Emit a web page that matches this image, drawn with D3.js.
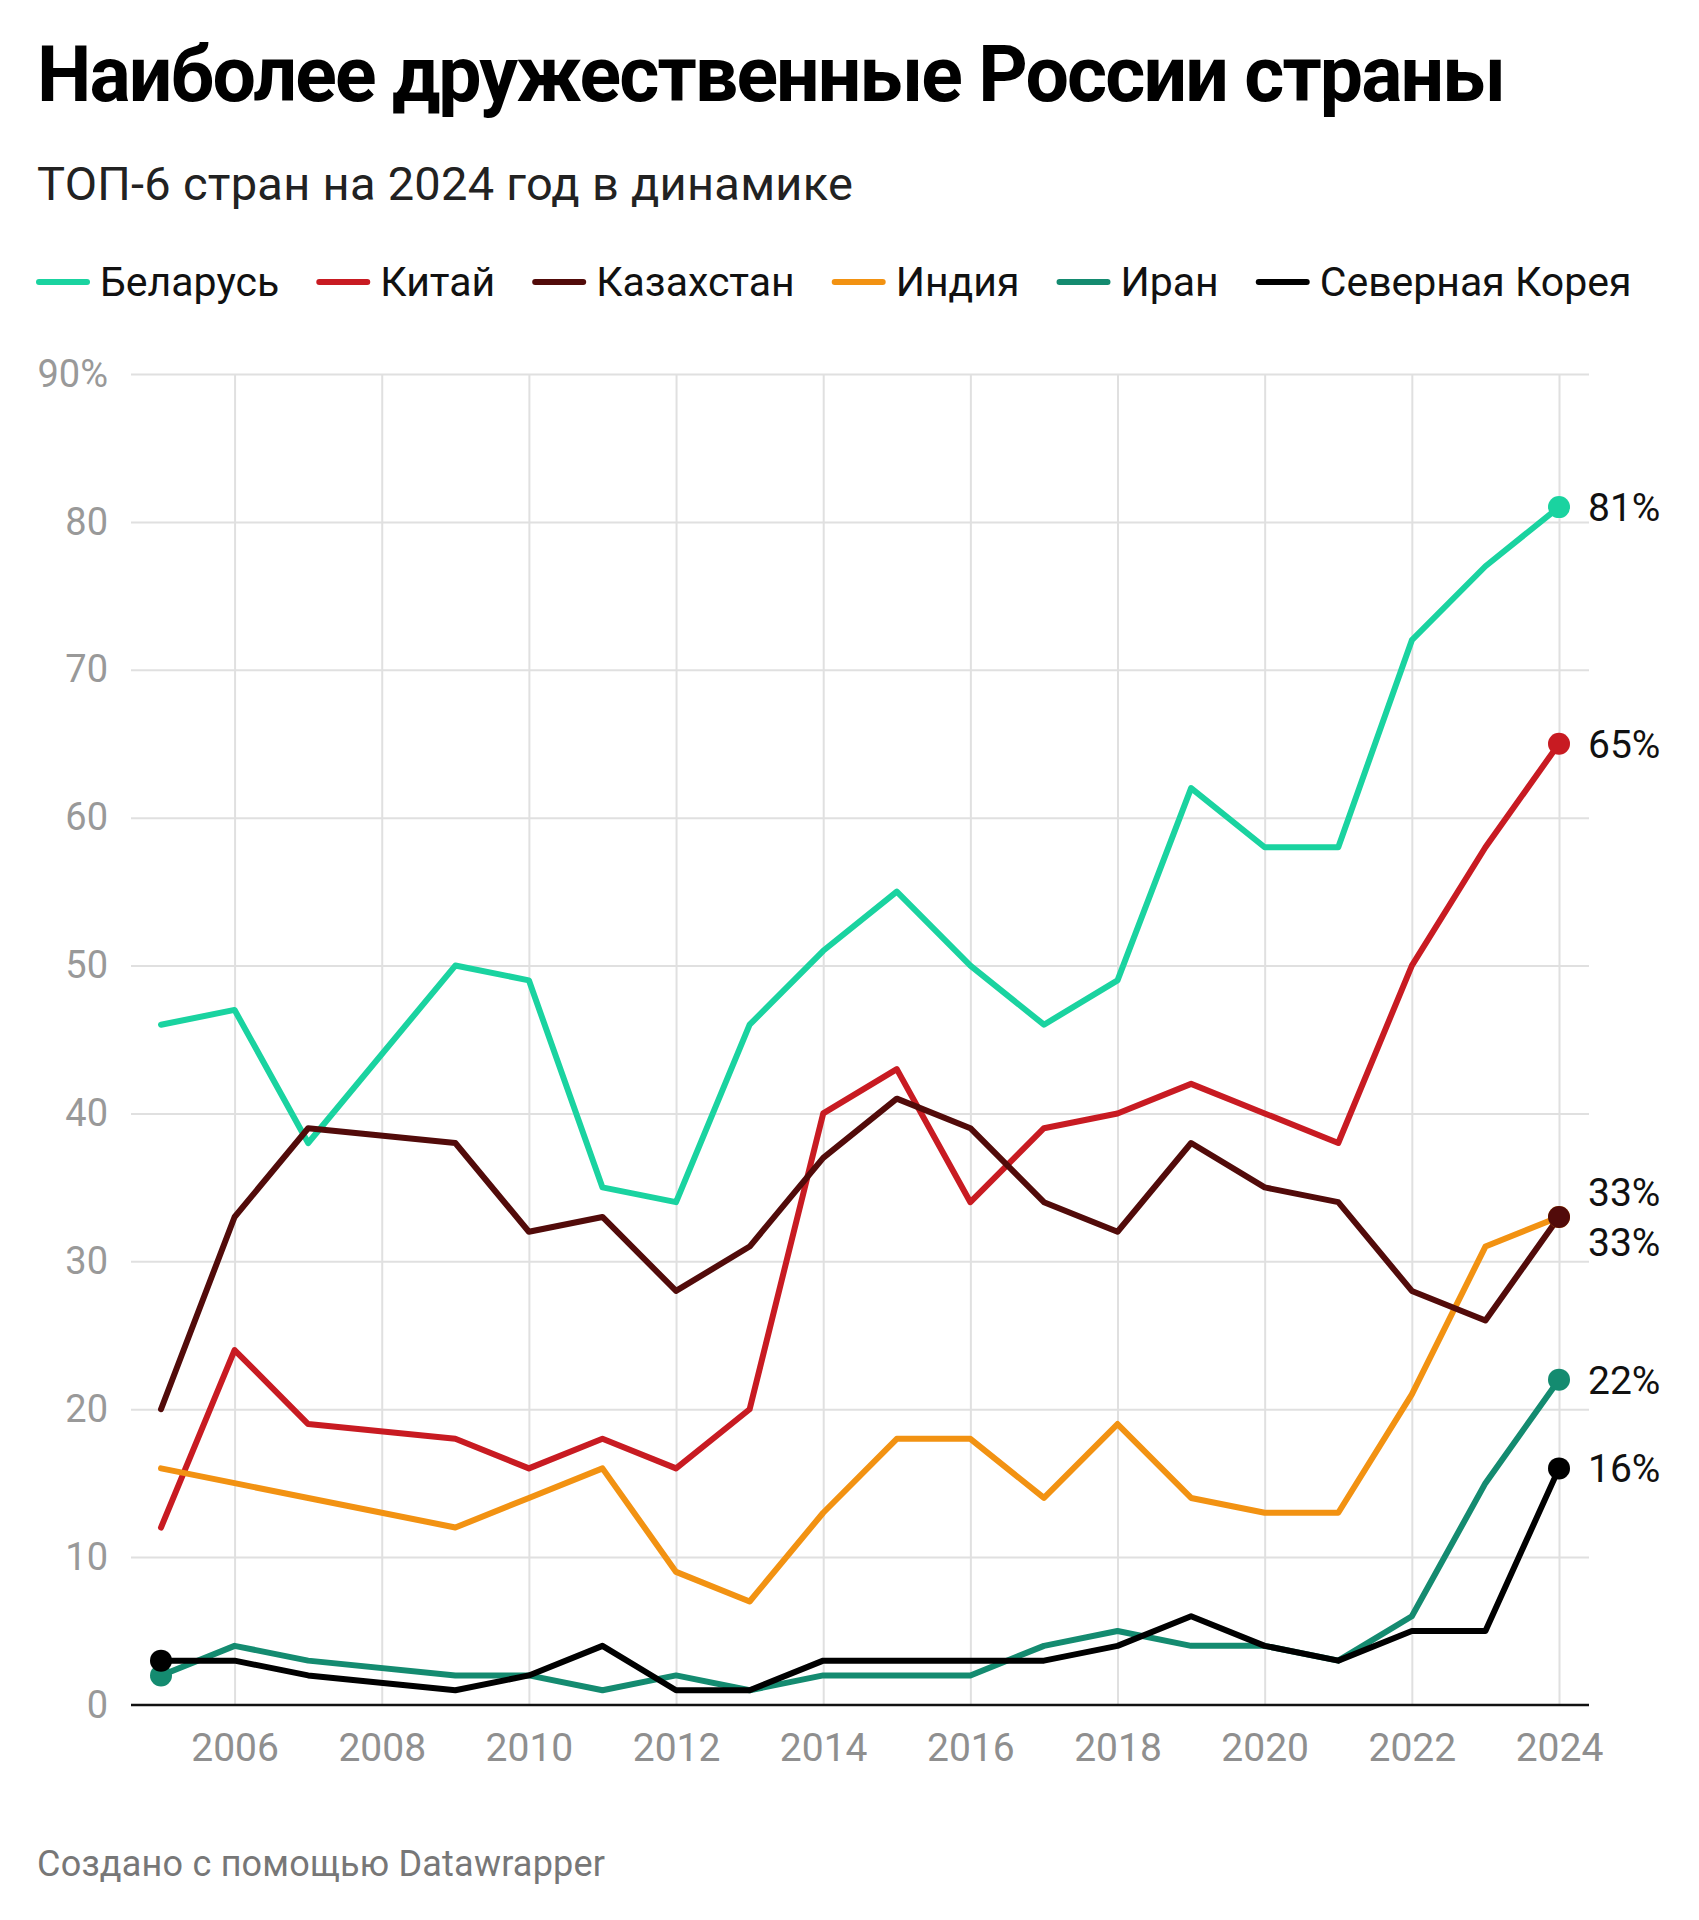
<!DOCTYPE html>
<html><head><meta charset="utf-8">
<script src="https://cdn.jsdelivr.net/npm/d3@7"></script>
<style>body{margin:0;background:#fff} svg{display:block;font-family:Roboto, "Noto Sans", sans-serif}</style>
</head><body><svg id="chart" width="1699" height="1920"></svg>
<script>
// ---- data ----
const years      = [2005,2006,2007,2009,2010,2011,2012,2013,2014,2015,2016,2017,2018,2019,2020,2021,2022,2023,2024];
const belarus    = [46,47,38,50,49,35,34,46,51,55,50,46,49,62,58,58,72,77,81];
const china      = [12,24,19,18,16,18,16,20,40,43,34,39,40,42,40,38,50,58,65];
const kazakhstan = [20,33,39,38,32,33,28,31,37,41,39,34,32,38,35,34,28,26,33];
const india      = [16,15,14,12,14,16,9,7,13,18,18,14,19,14,13,13,21,31,33];
const iran       = [2,4,3,2,2,1,2,1,2,2,2,4,5,4,4,3,6,15,22];
const northKorea = [3,3,2,1,2,4,1,1,3,3,3,3,4,6,4,3,5,5,16];
const seriesNames  = ["Беларусь","Китай","Казахстан","Индия","Иран","Северная Корея"];
const seriesValues = [belarus, china, kazakhstan, india, iran, northKorea];
const seriesColors = ["#1ad3a0","#c81b22","#520b0a","#f29212","#148b70","#000000"];
const startDot     = [false,false,false,false,true,true];
const yTickValues  = [0,10,20,30,40,50,60,70,80,90];
const yTickLabels  = ["0","10","20","30","40","50","60","70","80","90%"];
const xTickValues  = [2006,2008,2010,2012,2014,2016,2018,2020,2022,2024];
const titleText    = "Наиболее дружественные России страны";
const subtitleText = "ТОП-6 стран на 2024 год в динамике";
const footerText   = "Создано с помощью Datawrapper";

// ---- layout ----
const svg = d3.select("#chart");
const gridLeft = 131, gridRight = 1589;
const x = d3.scaleLinear().domain([2005, 2024]).range([161, 1559]);
const y = d3.scaleLinear().domain([0, 90]).range([1705, 374]);

// title / subtitle
svg.append("text").attr("x", 37).attr("y", 101)
  .attr("font-size", 77).attr("font-weight", 700).attr("fill", "#000")
  .attr("textLength", 1469).attr("lengthAdjust", "spacing")
  .text(titleText);
svg.append("text").attr("x", 37).attr("y", 200)
  .attr("font-size", 47).attr("fill", "#222")
  .attr("textLength", 816).attr("lengthAdjust", "spacing")
  .text(subtitleText);

// legend
const legend = svg.append("g").attr("transform", "translate(37,282)");
let lx = 0;
seriesNames.forEach((name, i) => {
  const g = legend.append("g").attr("transform", `translate(${lx},0)`);
  g.append("line").attr("x1", 2).attr("x2", 50).attr("y1", 0).attr("y2", 0)
    .attr("stroke", seriesColors[i]).attr("stroke-width", 6).attr("stroke-linecap", "round");
  const t = g.append("text").attr("x", 63).attr("y", 14)
    .attr("font-size", 41).attr("fill", "#111").text(name);
  lx += 63 + t.node().getComputedTextLength() + 38;
});

// gridlines
svg.append("g").attr("class", "hgrid").attr("transform", `translate(${gridLeft},0)`)
  .call(d3.axisLeft(y).tickValues(yTickValues.filter(v => v > 0)).tickSize(-(gridRight - gridLeft)).tickFormat(""))
  .call(g => g.select(".domain").remove())
  .call(g => g.selectAll("line").attr("stroke", "#e0e0e0").attr("stroke-width", 2));
svg.append("g").attr("class", "vgrid").attr("transform", `translate(0,${y(0)})`)
  .call(d3.axisBottom(x).tickValues(xTickValues).tickSize(-(y(0) - y(90))).tickFormat(""))
  .call(g => g.select(".domain").remove())
  .call(g => g.selectAll("line").attr("stroke", "#e0e0e0").attr("stroke-width", 2));

// y axis labels
svg.append("g").attr("transform", `translate(${gridLeft},0)`)
  .call(d3.axisLeft(y).tickValues(yTickValues).tickSize(0).tickPadding(23)
    .tickFormat((d, i) => yTickLabels[i]))
  .call(g => g.select(".domain").remove())
  .call(g => g.selectAll("text").attr("font-size", 38).attr("fill", "#999")
    .attr("font-family", "Roboto"));

// x axis labels
svg.append("g").attr("transform", `translate(0,${y(0)})`)
  .call(d3.axisBottom(x).tickValues(xTickValues).tickSize(0).tickPadding(28).tickFormat(d3.format("d")))
  .call(g => g.select(".domain").remove())
  .call(g => g.selectAll("text").attr("font-size", 39).attr("fill", "#8f8f8f")
    .attr("font-family", "Roboto"));

// baseline
svg.append("line").attr("x1", gridLeft).attr("x2", gridRight)
  .attr("y1", y(0)).attr("y2", y(0)).attr("stroke", "#111").attr("stroke-width", 2.5);

// lines
const drawOrder = [0, 1, 3, 2, 4, 5];
const line = d3.line().x((d, i) => x(years[i])).y(d => y(d));
drawOrder.forEach(i => {
  svg.append("path").datum(seriesValues[i])
    .attr("d", line).attr("fill", "none")
    .attr("stroke", seriesColors[i]).attr("stroke-width", 6)
    .attr("stroke-linejoin", "round").attr("stroke-linecap", "round");
});
// dots
const last = years.length - 1;
drawOrder.forEach(i => {
  svg.append("circle").attr("cx", x(years[last])).attr("cy", y(seriesValues[i][last]))
    .attr("r", 11).attr("fill", seriesColors[i]);
  if (startDot[i]) {
    svg.append("circle").attr("cx", x(years[0])).attr("cy", y(seriesValues[i][0]))
      .attr("r", 11).attr("fill", seriesColors[i]);
  }
});

// end labels with simple collision avoidance
const labels = seriesValues.map((vals, i) => ({ v: vals[last], y: y(vals[last]), i }))
  .sort((a, b) => a.y - b.y || a.i - b.i);
const minGap = 50;
for (let pass = 0; pass < 20; pass++) {
  for (let k = 1; k < labels.length; k++) {
    const gap = labels[k].y - labels[k - 1].y;
    if (gap < minGap) {
      const push = (minGap - gap) / 2;
      labels[k].y += push; labels[k - 1].y -= push;
    }
  }
}
labels.forEach(l => {
  svg.append("text").attr("x", 1588).attr("y", l.y).attr("dy", "0.36em")
    .attr("font-size", 39).attr("fill", "#111").text(l.v + "%");
});

// footer
svg.append("text").attr("x", 37).attr("y", 1876)
  .attr("font-size", 36).attr("fill", "#777")
  .attr("textLength", 568).attr("lengthAdjust", "spacing")
  .text(footerText);
</script></body></html>
